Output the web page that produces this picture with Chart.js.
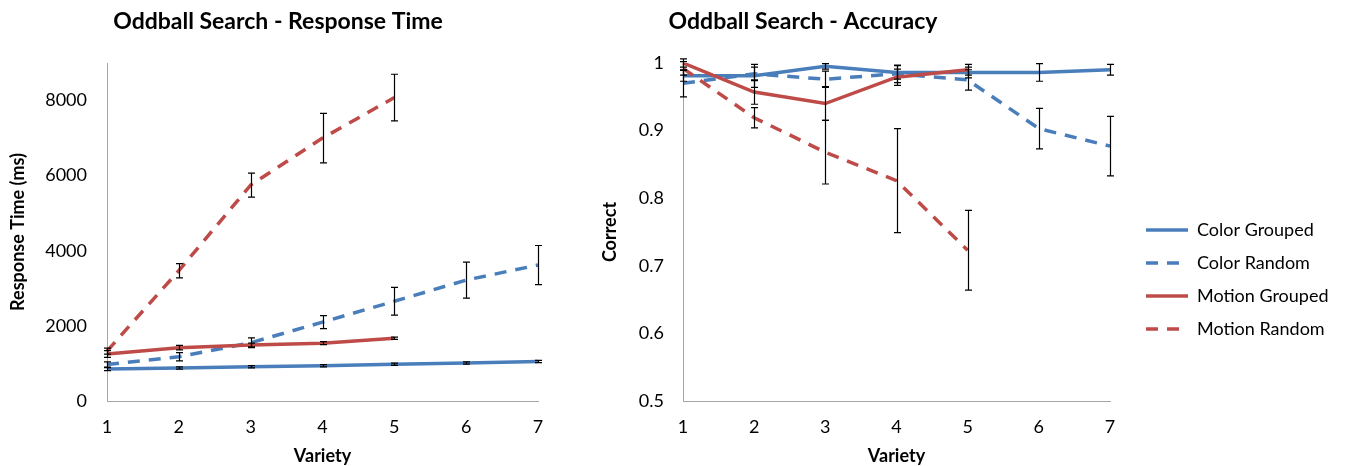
<!DOCTYPE html>
<html>
<head>
<meta charset="utf-8">
<script src="https://cdn.jsdelivr.net/npm/chart.js@4/dist/chart.umd.min.js"></script>
<style>
html, body { margin: 0; padding: 0; background: #ffffff; width: 1364px; height: 466px; overflow: hidden; }
.box { position: absolute; top: 0; height: 466px; }
#rtBox { left: 0; width: 560px; }
#accBox { left: 560px; width: 804px; }
</style>
</head>
<body>
<div class="box" id="rtBox"><canvas id="rt"></canvas></div>
<div class="box" id="accBox"><canvas id="acc"></canvas></div>
<script>
// ---------- data ----------
const categories = ['1', '2', '3', '4', '5', '6', '7'];
const seriesNames = ['Color Grouped', 'Color Random', 'Motion Grouped', 'Motion Random'];

// Response time (ms)
const rtColorGrouped     = [850, 880, 910, 940, 980, 1010, 1050];
const rtColorGroupedErr  = [40, 30, 30, 30, 30, 30, 30];
const rtColorRandom      = [970, 1180, 1550, 2100, 2655, 3220, 3620];
const rtColorRandomErr   = [70, 110, 130, 175, 370, 480, 520];
const rtMotionGrouped    = [1250, 1420, 1490, 1540, 1670, null, null];
const rtMotionGroupedErr = [90, 60, 50, 40, 30, null, null];
const rtMotionRandom     = [1330, 3470, 5750, 7000, 8080, null, null];
const rtMotionRandomErr  = [80, 190, 320, 660, 620, null, null];
const rtTicks = [0, 2000, 4000, 6000, 8000];

// Accuracy (proportion correct)
const accColorGrouped     = [0.981, 0.981, 0.995, 0.986, 0.986, 0.986, 0.990];
const accColorGroupedErr  = [0.008, 0.017, 0.004, 0.010, 0.008, 0.013, 0.008];
const accColorRandom      = [0.970, 0.984, 0.976, 0.984, 0.975, 0.903, 0.877];
const accColorRandomErr   = [0.020, 0.010, 0.012, 0.013, 0.015, 0.030, 0.044];
const accMotionGrouped    = [1.000, 0.957, 0.940, 0.979, 0.990, null, null];
const accMotionGroupedErr = [0.006, 0.018, 0.025, 0.012, 0.008, null, null];
const accMotionRandom     = [0.992, 0.919, 0.868, 0.826, 0.723, null, null];
const accMotionRandomErr  = [0.010, 0.015, 0.047, 0.077, 0.059, null, null];
const accTicks = [0.5, 0.6, 0.7, 0.8, 0.9, 1.0];

// ---------- styling ----------
const BLUE = '#4A7EBB';
const RED = '#BE4B48';
const AXIS = '#A6A6A6';
const FONT = 'Lato';
Chart.defaults.font.family = FONT;
Chart.defaults.color = '#000000';

function makeDatasets(cg, cgE, cr, crE, mg, mgE, mr, mrE) {
  const base = { borderWidth: 3.5, pointRadius: 0, pointHoverRadius: 0, tension: 0, fill: false, borderCapStyle: 'butt', spanGaps: false };
  return [
    Object.assign({}, base, { label: seriesNames[0], data: cg, errors: cgE, borderColor: BLUE, backgroundColor: BLUE, borderDash: [], order: 4 }),
    Object.assign({}, base, { label: seriesNames[1], data: cr, errors: crE, borderColor: BLUE, backgroundColor: BLUE, borderDash: [12, 9], order: 3 }),
    Object.assign({}, base, { label: seriesNames[2], data: mg, errors: mgE, borderColor: RED, backgroundColor: RED, borderDash: [], order: 2 }),
    Object.assign({}, base, { label: seriesNames[3], data: mr, errors: mrE, borderColor: RED, backgroundColor: RED, borderDash: [12, 9], order: 1 })
  ];
}

// error bars drawn through the chart's scales
const errorBars = {
  id: 'errorBars',
  afterDatasetsDraw(chart, args, opts) {
    const ctx = chart.ctx;
    const xs = chart.scales.x, ys = chart.scales.y;
    const cap = opts.cap || 3.5;
    ctx.save();
    ctx.strokeStyle = opts.color || '#000';
    ctx.lineWidth = opts.width || 1.2;
    ctx.setLineDash([]);
    chart.data.datasets.forEach(ds => {
      const errs = ds.errors;
      if (!errs) return;
      ds.data.forEach((v, i) => {
        if (v == null || errs[i] == null) return;
        const px = Math.round(xs.getPixelForValue(i)) + 0.5;
        const top = ys.getPixelForValue(v + errs[i]);
        const bot = ys.getPixelForValue(v - errs[i]);
        ctx.beginPath();
        ctx.moveTo(px, top); ctx.lineTo(px, bot);
        ctx.moveTo(px - cap, top); ctx.lineTo(px + cap, top);
        ctx.moveTo(px - cap, bot); ctx.lineTo(px + cap, bot);
        ctx.stroke();
      });
    });
    ctx.restore();
  }
};

// places title and legend boxes
const boxPlacer = {
  id: 'boxPlacer',
  afterLayout(chart, args, o) {
    const t = chart.titleBlock;
    if (t && o.titleCenter != null) {
      t.left = o.titleCenter - 300;
      t.right = o.titleCenter + 300;
    }
    const lg = chart.legend;
    if (lg && lg.options.display && o.legendX != null) {
      const pad = lg.options.labels.padding;
      lg.left = o.legendX - pad;
      lg.right = chart.width;
      lg.top = o.legendY - pad;
      lg.bottom = chart.height;
    }
  }
};

function makeOptions(cfg) {
  return {
    responsive: true,
    maintainAspectRatio: false,
    animation: false,
    devicePixelRatio: 1,
    layout: { padding: cfg.padding },
    plugins: {
      title: {
        display: true,
        text: cfg.title,
        color: '#000',
        font: { family: FONT, size: 23, weight: 'bold' },
        padding: { top: 8, bottom: 27.4 }
      },
      legend: cfg.legend,
      tooltip: { enabled: false },
      errorBars: { color: '#000', width: 1.2, cap: 3.5 },
      boxPlacer: cfg.placer
    },
    scales: {
      x: {
        type: 'category',
        offset: false,
        grid: { display: false, drawTicks: false },
        border: { display: true, color: AXIS, width: 1 },
        ticks: { padding: 15, color: '#000', font: { family: FONT, size: 18 }, autoSkip: false, maxRotation: 0 },
        title: { display: true, text: 'Variety', color: '#000', font: { family: FONT, size: 18, weight: 'bold' }, padding: { top: 0, bottom: -1 } },
        afterFit: s => { s.height = 65; }
      },
      y: {
        min: cfg.yMin,
        max: cfg.yMax,
        afterBuildTicks: s => { s.ticks = cfg.yTicks.map(v => ({ value: v })); },
        grid: { display: false, drawTicks: false },
        border: { display: true, color: AXIS, width: 1 },
        ticks: { padding: cfg.yTickPad, color: '#000', font: { family: FONT, size: 18 }, callback: v => String(Math.round(v * 10) / 10) },
        title: { display: true, text: cfg.yTitle, color: '#000', font: { family: FONT, size: 18, weight: 'bold' }, padding: { top: cfg.yTitlePad, bottom: 0 } },
        afterFit: s => { s.width = cfg.yWidth; }
      }
    }
  };
}

new Chart(document.getElementById('rt'), {
  type: 'line',
  data: {
    labels: categories,
    datasets: makeDatasets(rtColorGrouped, rtColorGroupedErr, rtColorRandom, rtColorRandomErr,
                           rtMotionGrouped, rtMotionGroupedErr, rtMotionRandom, rtMotionRandomErr)
  },
  options: makeOptions({
    title: 'Oddball Search - Response Time',
    padding: { left: 0, right: 22, top: 0, bottom: 0 },
    legend: { display: false },
    placer: { titleCenter: 278 },
    yMin: 0, yMax: 9000, yTicks: rtTicks, yTickPad: 20,
    yTitle: 'Response Time (ms)', yTitlePad: 7, yWidth: 107
  }),
  plugins: [errorBars, boxPlacer]
});

new Chart(document.getElementById('acc'), {
  type: 'line',
  data: {
    labels: categories,
    datasets: makeDatasets(accColorGrouped, accColorGroupedErr, accColorRandom, accColorRandomErr,
                           accMotionGrouped, accMotionGroupedErr, accMotionRandom, accMotionRandomErr)
  },
  options: makeOptions({
    title: 'Oddball Search - Accuracy',
    padding: { left: 0, right: 154, top: 0, bottom: 0 },
    legend: {
      display: true,
      position: 'right',
      align: 'start',
      maxWidth: 100,
      labels: {
        usePointStyle: true,
        pointStyle: 'line',
        pointStyleWidth: 42,
        padding: 15,
        color: '#000',
        font: { family: FONT, size: 18 },
        generateLabels(chart) {
          const items = Chart.defaults.plugins.legend.labels.generateLabels(chart);
          items.forEach(it => {
            const ds = chart.data.datasets[it.datasetIndex];
            it.lineWidth = ds.borderWidth;
            it.lineDash = ds.borderDash || [];
            it.strokeStyle = ds.borderColor;
            it.fillStyle = ds.borderColor;
            it.lineCap = 'butt';
            it.pointStyle = 'line';
          });
          return items.sort((a, b) => a.datasetIndex - b.datasetIndex);
        }
      }
    },
    placer: { titleCenter: 243, legendX: 586, legendY: 221 },
    yMin: 0.5, yMax: 1.0, yTicks: accTicks, yTickPad: 19,
    yTitle: 'Correct', yTitlePad: 39, yWidth: 123
  }),
  plugins: [errorBars, boxPlacer]
});
</script>
</body>
</html>
